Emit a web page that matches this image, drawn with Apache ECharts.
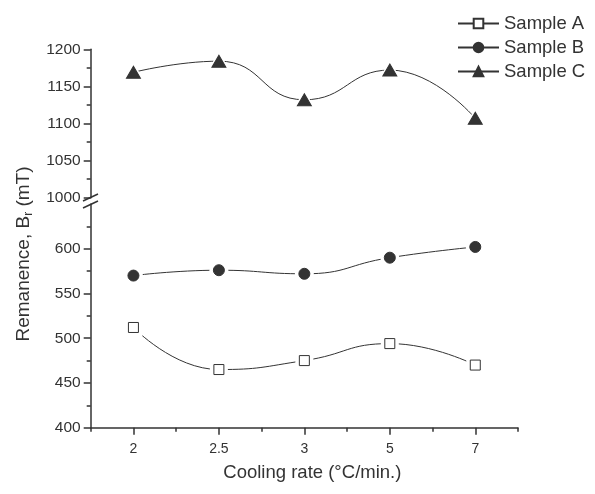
<!DOCTYPE html>
<html>
<head>
<meta charset="utf-8">
<script src="https://cdn.jsdelivr.net/npm/echarts@6/dist/echarts.min.js"></script>
<style>
  html, body { margin: 0; padding: 0; background: #fff; }
  #chart { width: 595px; height: 494px; }
</style>
</head>
<body>
<div id="chart"></div>
<script>
// cooling rates (°C/min.) and remanence Br (mT)
const rates = ['2', '2.5', '3', '5', '7']
const sampleA = [512, 465, 475, 494, 470]
const sampleB = [570, 576, 572, 590, 602]
const sampleC = [1169, 1184, 1132, 1172, 1107]
const lowTicks = [400, 450, 500, 550, 600]
const lowMinor = [425, 475, 525, 575, 625]
const highTicks = [1000, 1050, 1100, 1150, 1200]
const highMinor = [1025, 1075, 1125, 1175]

const ink = '#333'
const font = 'Liberation Sans, Arial, sans-serif'

const chart = echarts.init(document.getElementById('chart'))

// grid 0 = lower part (400-650), grid 1 = upper part (1000-1200)
const samples = [
  { name: 'Sample A', data: sampleA, grid: 0, symbol: 'rect', size: 10, fill: '#fff' },
  { name: 'Sample B', data: sampleB, grid: 0, symbol: 'circle', size: 11, fill: ink },
  { name: 'Sample C', data: sampleC, grid: 1, symbol: 'triangle', size: [14, 12], fill: ink }
]

const series = []
samples.forEach(s => {
  const ax = s.grid === 0 ? 0 : 2
  const yAx = s.grid === 0 ? 0 : 2
  const pts = s.data.map((v, i) => [i, v])
  series.push({
    name: s.name, type: 'line', smooth: 0.5, z: 2,
    xAxisIndex: ax, yAxisIndex: yAx,
    data: pts,
    symbol: s.symbol, symbolSize: s.size,
    lineStyle: { color: ink, width: 1 },
    itemStyle: { color: s.fill, borderColor: ink, borderWidth: 1 }
  })
  // white halo so the curve stops short of each marker, then the marker on top
  const big = Array.isArray(s.size) ? [s.size[0] + 9, s.size[1] + 9] : s.size + 8
  series.push({
    name: s.name, type: 'scatter', z: 5,
    xAxisIndex: ax, yAxisIndex: yAx,
    data: pts, symbol: s.symbol, symbolSize: big,
    itemStyle: { color: '#fff', opacity: 1 },
    emphasis: { disabled: true }
  })
  series.push({
    name: s.name, type: 'scatter', z: 6,
    xAxisIndex: ax, yAxisIndex: yAx,
    data: pts, symbol: s.symbol, symbolSize: s.size,
    itemStyle: { color: s.fill, borderColor: ink, borderWidth: 1, opacity: 1 },
    emphasis: { disabled: true }
  })
})

const axisLine = { show: true, lineStyle: { color: ink, width: 1.5 } }
const tickStyle = { color: ink, width: 1.5 }
const plain = v => String(v)

chart.setOption({
  animation: false,
  textStyle: { fontFamily: font, color: ink },
  grid: [
    { left: 90.7, right: 77, top: 204, bottom: 66.3 },
    { left: 90.7, right: 77, top: 49.3, bottom: 296.3 }
  ],
  legend: {
    orient: 'vertical', left: 452, top: 9,
    itemWidth: 41, itemHeight: 12, itemGap: 5,
    data: ['Sample A', 'Sample B', 'Sample C'],
    textStyle: { fontSize: 18.5, color: ink, fontFamily: font }
  },
  xAxis: [
    {
      type: 'category', gridIndex: 0, data: rates, boundaryGap: true,
      axisLine: axisLine,
      axisTick: { show: true, alignWithLabel: true, length: 7, lineStyle: tickStyle },
      axisLabel: { fontSize: 14, color: ink, margin: 14.5 },
      name: 'Cooling rate (°C/min.)', nameLocation: 'middle', nameGap: 36,
      nameTextStyle: { fontSize: 18.5, color: ink, padding: [0, 0, 0, 16] }
    },
    {
      type: 'category', gridIndex: 0, data: rates, boundaryGap: true, position: 'bottom',
      axisLine: { show: false },
      axisTick: { show: true, alignWithLabel: false, length: 4, lineStyle: tickStyle },
      axisLabel: { show: false }
    },
    { type: 'category', gridIndex: 1, data: rates, boundaryGap: true, show: false }
  ],
  yAxis: [
    {
      type: 'value', gridIndex: 0, min: 400, max: 650,
      splitLine: { show: false }, axisLine: axisLine,
      axisTick: { show: true, customValues: lowTicks, length: 7, lineStyle: tickStyle },
      axisLabel: { customValues: lowTicks, fontSize: 15.5, color: ink, margin: 10, formatter: plain }
    },
    {
      type: 'value', gridIndex: 0, min: 400, max: 650, position: 'left',
      splitLine: { show: false }, axisLine: { show: false },
      axisTick: { show: true, customValues: lowMinor, length: 4, lineStyle: tickStyle },
      axisLabel: { show: false }
    },
    {
      type: 'value', gridIndex: 1, min: 1000, max: 1200,
      splitLine: { show: false }, axisLine: axisLine,
      axisTick: { show: true, customValues: highTicks, length: 7, lineStyle: tickStyle },
      axisLabel: { customValues: highTicks, fontSize: 15.5, color: ink, margin: 10, formatter: plain }
    },
    {
      type: 'value', gridIndex: 1, min: 1000, max: 1200, position: 'left',
      splitLine: { show: false }, axisLine: { show: false },
      axisTick: { show: true, customValues: highMinor, length: 4, lineStyle: tickStyle },
      axisLabel: { show: false }
    }
  ],
  graphic: [
    // axis break marks
    { type: 'line', shape: { x1: 83, y1: 201, x2: 98, y2: 194 }, style: { stroke: ink, lineWidth: 1.5 } },
    { type: 'line', shape: { x1: 83, y1: 208, x2: 98, y2: 201 }, style: { stroke: ink, lineWidth: 1.5 } },
    {
      type: 'text', x: 24, y: 254, rotation: Math.PI / 2,
      style: {
        text: 'Remanence, B{sub|r} (mT)',
        fontSize: 19, fontFamily: font, fill: ink,
        align: 'center', verticalAlign: 'middle',
        rich: { sub: { fontSize: 12, fontFamily: font, fill: ink, padding: [10, 0, 0, 0] } }
      }
    }
  ],
  series: series
})
</script>
</body>
</html>
